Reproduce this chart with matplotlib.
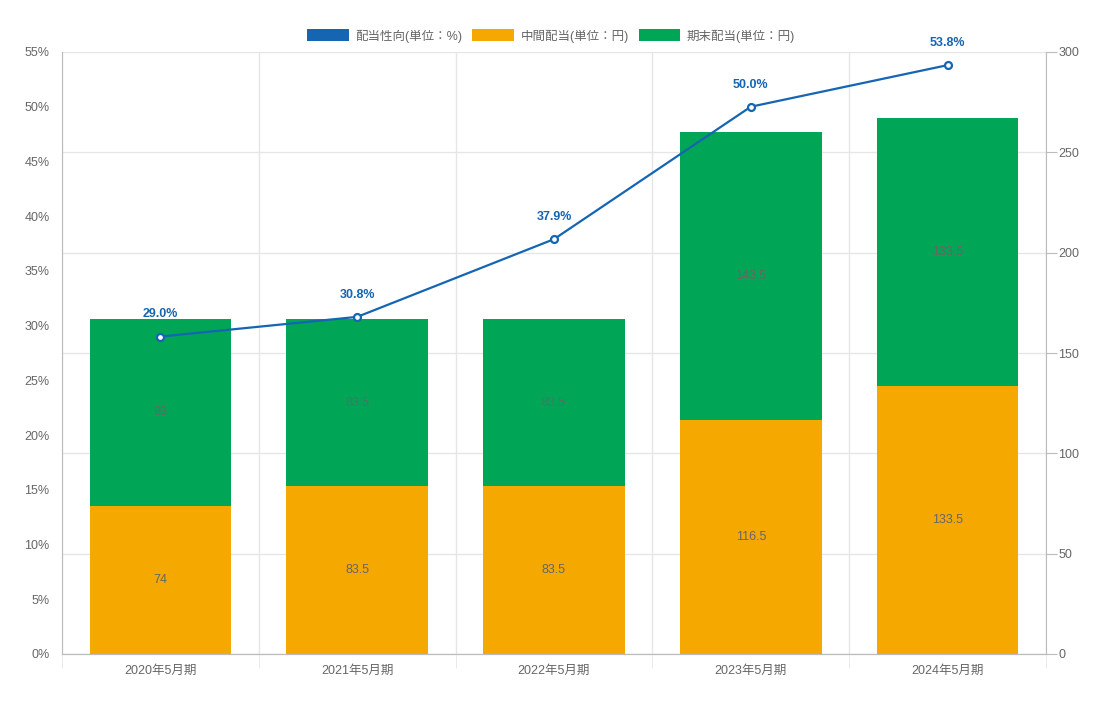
import matplotlib
matplotlib.use("Agg")
import matplotlib.pyplot as plt
from matplotlib.patches import Patch
from matplotlib.ticker import MultipleLocator, FixedLocator

plt.rcParams['font.family'] = ['Liberation Sans', 'Noto Sans CJK JP', 'DejaVu Sans']

categories = ["2020年5月期", "2021年5月期", "2022年5月期", "2023年5月期", "2024年5月期"]
payout_ratio = [29.0, 30.8, 37.9, 50.0, 53.8]
interim_div = [74, 83.5, 83.5, 116.5, 133.5]
final_div = [93, 83.5, 83.5, 143.5, 133.5]
interim_labels = ["74", "83.5", "83.5", "116.5", "133.5"]
final_labels = ["93", "83.5", "83.5", "143.5", "133.5"]

legend_labels = ["配当性向(単位：%)", "中間配当(単位：円)", "期末配当(単位：円)"]
c_line = "#1565b3"
c_orange = "#f5a800"
c_green = "#00a556"
c_text = "#666666"
c_grid = "#e6e6e6"
c_axis = "#bbbbbb"

W, H = 1104, 709
fig = plt.figure(figsize=(W / 100, H / 100), dpi=100)
ax = fig.add_axes([62 / W, (H - 654) / H, (1046 - 62) / W, (654 - 52) / H])
ax2 = ax.twinx()

x = list(range(len(categories)))

# bars on right axis
ax2.bar(x, interim_div, width=0.72, color=c_orange, zorder=2)
ax2.bar(x, final_div, bottom=interim_div, width=0.72, color=c_green, zorder=2)
for i in x:
    ax2.text(i, interim_div[i] / 2, interim_labels[i], ha='center', va='center',
             fontsize=9, color=c_text, zorder=3)
    ax2.text(i, interim_div[i] + final_div[i] / 2, final_labels[i], ha='center', va='center',
             fontsize=9, color=c_text, zorder=3)

ax2.set_ylim(0, 300)
ax2.yaxis.set_major_locator(MultipleLocator(50))
ax2.tick_params(axis='y', length=8, color=c_axis, labelcolor=c_text, labelsize=9, pad=1)
ax2.grid(axis='y', color=c_grid, linewidth=1, zorder=0)
ax2.set_axisbelow(True)

# line on left axis
ax.set_zorder(ax2.get_zorder() + 1)
ax.patch.set_visible(False)
ax.plot(x, payout_ratio, color=c_line, linewidth=1.6, marker='o', markersize=5,
        markerfacecolor='white', markeredgecolor=c_line, markeredgewidth=1.6, zorder=5)
for i in x:
    ax.annotate(f"{payout_ratio[i]:.1f}%", (i, payout_ratio[i]), xytext=(0, 16),
                textcoords='offset points', ha='center', va='center',
                fontsize=9, fontweight='bold', color=c_line)
ax.set_ylim(0, 55)
ax.yaxis.set_major_locator(MultipleLocator(5))
ax.set_yticklabels([f"{int(v)}%" for v in ax.get_yticks()])
ax.tick_params(axis='y', length=0, labelcolor=c_text, labelsize=9, pad=9)

ax.set_xlim(-0.5, len(categories) - 0.5)
ax.set_xticks(x)
ax.set_xticklabels(categories)
ax.xaxis.set_minor_locator(FixedLocator([i - 0.5 for i in range(len(categories) + 1)]))
ax.tick_params(axis='x', which='major', length=0, labelcolor=c_text, labelsize=9, pad=8)
ax.tick_params(axis='x', which='minor', length=10, color=c_grid)
ax2.grid(False, axis='x')
for b in [i - 0.5 for i in range(len(categories) + 1)]:
    ax2.axvline(b, color=c_grid, linewidth=1, zorder=0)

for a in (ax, ax2):
    a.spines['top'].set_visible(False)
    for s in ('left', 'right', 'bottom'):
        a.spines[s].set_color(c_axis)
ax2.spines['left'].set_visible(False)
ax.spines['right'].set_visible(False)

handles = [Patch(facecolor=c_line), Patch(facecolor=c_orange), Patch(facecolor=c_green)]
fig.legend(handles, legend_labels, loc='center', bbox_to_anchor=(551 / W, 1 - 36 / H),
           ncol=3, frameon=False, fontsize=9, labelcolor=c_text,
           handlelength=3.35, handleheight=1.1, handletextpad=0.5, columnspacing=0.8)

fig.savefig("out.png", dpi=100, facecolor='white')
